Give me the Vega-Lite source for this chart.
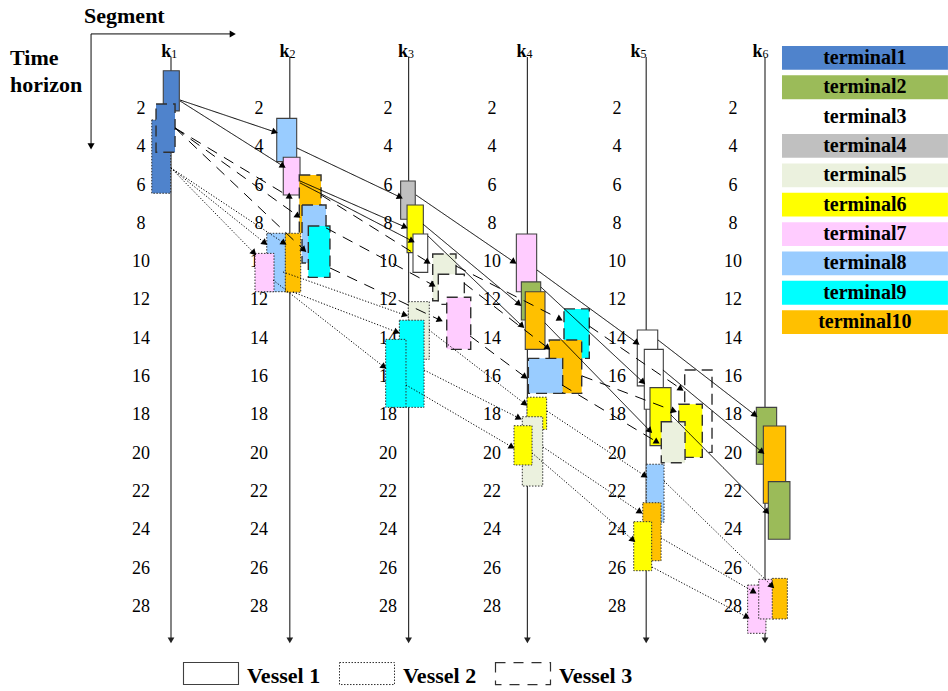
{
  "$schema": "https://vega.github.io/schema/vega-lite/v6.json",
  "width": 948,
  "height": 691,
  "autosize": {"type": "none"},
  "padding": 0,
  "background": "white",
  "config": {"view": {"stroke": null}},
  "datasets": {
    "cols": [
      {"sub": "1", "x": 1, "lx": 0.747, "kx": 0.960, "ticks": [2,4,6,8,10,12,14,16,18,20,22,24,26,28]},
      {"sub": "2", "x": 2, "lx": 1.741, "kx": 1.955, "ticks": [2,4,6,8,10,12,14,16,18,20,22,24,26,28]},
      {"sub": "3", "x": 3, "lx": 2.827, "kx": 2.953, "ticks": [2,4,6,8,10,12,14,16,18,20,22,24,26,28]},
      {"sub": "4", "x": 4, "lx": 3.702, "kx": 3.950, "ticks": [2,4,6,8,10,12,14,16,18,20,22,24,26,28]},
      {"sub": "5", "x": 5, "lx": 4.754, "kx": 4.910, "ticks": [2,4,6,8,10,12,14,16,18,20,22,24,26,28]},
      {"sub": "6", "x": 6, "lx": 5.731, "kx": 5.937, "ticks": [2,4,6,8,10,12,14,16,18,20,22,24,26,28]}
    ],
    "boxes": [
      {"terminal": "terminal1", "vessel": "Vessel 1", "x1": 0.935, "x2": 1.070, "t1": 0.00, "t2": 2.10},
      {"terminal": "terminal1", "vessel": "Vessel 2", "x1": 0.838, "x2": 0.997, "t1": 2.57, "t2": 6.40},
      {"terminal": "terminal1", "vessel": "Vessel 3", "x1": 0.874, "x2": 1.034, "t1": 1.74, "t2": 4.26},
      {"terminal": "terminal10", "vessel": "Vessel 3", "x1": 2.080, "x2": 2.263, "t1": 5.45, "t2": 8.48},
      {"terminal": "terminal8", "vessel": "Vessel 1", "x1": 1.890, "x2": 2.058, "t1": 2.49, "t2": 4.75},
      {"terminal": "terminal7", "vessel": "Vessel 1", "x1": 1.945, "x2": 2.086, "t1": 4.52, "t2": 6.49},
      {"terminal": "terminal8", "vessel": "Vessel 3", "x1": 2.103, "x2": 2.305, "t1": 7.01, "t2": 10.04},
      {"terminal": "terminal9", "vessel": "Vessel 3", "x1": 2.156, "x2": 2.338, "t1": 8.11, "t2": 10.79},
      {"terminal": "terminal8", "vessel": "Vessel 2", "x1": 1.806, "x2": 1.968, "t1": 8.49, "t2": 11.54},
      {"terminal": "terminal7", "vessel": "Vessel 2", "x1": 1.707, "x2": 1.867, "t1": 9.54, "t2": 11.54},
      {"terminal": "terminal10", "vessel": "Vessel 2", "x1": 1.962, "x2": 2.092, "t1": 8.49, "t2": 11.57},
      {"terminal": "terminal4", "vessel": "Vessel 1", "x1": 2.933, "x2": 3.056, "t1": 5.76, "t2": 7.76},
      {"terminal": "terminal6", "vessel": "Vessel 1", "x1": 2.987, "x2": 3.124, "t1": 7.01, "t2": 9.50},
      {"terminal": "terminal3", "vessel": "Vessel 1", "x1": 3.037, "x2": 3.161, "t1": 8.53, "t2": 10.53},
      {"terminal": "terminal5", "vessel": "Vessel 3", "x1": 3.203, "x2": 3.399, "t1": 9.57, "t2": 12.01},
      {"terminal": "terminal3", "vessel": "Vessel 3", "x1": 3.250, "x2": 3.469, "t1": 10.63, "t2": 12.20},
      {"terminal": "terminal7", "vessel": "Vessel 3", "x1": 3.321, "x2": 3.523, "t1": 11.83, "t2": 14.55},
      {"terminal": "terminal5", "vessel": "Vessel 2", "x1": 2.997, "x2": 3.174, "t1": 12.06, "t2": 15.07},
      {"terminal": "terminal9", "vessel": "Vessel 2", "x1": 2.922, "x2": 3.130, "t1": 13.03, "t2": 17.58},
      {"terminal": "terminal9", "vessel": "Vessel 2", "x1": 2.807, "x2": 2.978, "t1": 14.03, "t2": 17.58},
      {"terminal": "terminal7", "vessel": "Vessel 1", "x1": 3.907, "x2": 4.078, "t1": 8.53, "t2": 11.54},
      {"terminal": "terminal2", "vessel": "Vessel 1", "x1": 3.949, "x2": 4.112, "t1": 11.03, "t2": 13.02},
      {"terminal": "terminal10", "vessel": "Vessel 1", "x1": 3.982, "x2": 4.148, "t1": 11.54, "t2": 14.55},
      {"terminal": "terminal9", "vessel": "Vessel 3", "x1": 4.308, "x2": 4.521, "t1": 12.44, "t2": 15.02},
      {"terminal": "terminal10", "vessel": "Vessel 3", "x1": 4.184, "x2": 4.457, "t1": 14.06, "t2": 16.85},
      {"terminal": "terminal8", "vessel": "Vessel 3", "x1": 4.008, "x2": 4.297, "t1": 15.02, "t2": 16.85},
      {"terminal": "terminal6", "vessel": "Vessel 2", "x1": 3.997, "x2": 4.162, "t1": 17.05, "t2": 18.73},
      {"terminal": "terminal5", "vessel": "Vessel 2", "x1": 3.957, "x2": 4.129, "t1": 18.07, "t2": 21.69},
      {"terminal": "terminal6", "vessel": "Vessel 2", "x1": 3.887, "x2": 4.039, "t1": 18.54, "t2": 20.59},
      {"terminal": "terminal3", "vessel": "Vessel 1", "x1": 4.925, "x2": 5.097, "t1": 13.54, "t2": 16.46},
      {"terminal": "terminal3", "vessel": "Vessel 1", "x1": 4.984, "x2": 5.144, "t1": 14.55, "t2": 17.68},
      {"terminal": "terminal6", "vessel": "Vessel 1", "x1": 5.032, "x2": 5.209, "t1": 16.55, "t2": 19.58},
      {"terminal": "terminal3", "vessel": "Vessel 3", "x1": 5.324, "x2": 5.554, "t1": 15.63, "t2": 19.93},
      {"terminal": "terminal6", "vessel": "Vessel 3", "x1": 5.274, "x2": 5.472, "t1": 17.42, "t2": 20.19},
      {"terminal": "terminal5", "vessel": "Vessel 3", "x1": 5.127, "x2": 5.327, "t1": 18.33, "t2": 20.47},
      {"terminal": "terminal8", "vessel": "Vessel 2", "x1": 5.001, "x2": 5.150, "t1": 20.55, "t2": 23.58},
      {"terminal": "terminal10", "vessel": "Vessel 2", "x1": 4.971, "x2": 5.125, "t1": 22.56, "t2": 25.59},
      {"terminal": "terminal6", "vessel": "Vessel 2", "x1": 4.895, "x2": 5.046, "t1": 23.55, "t2": 26.11},
      {"terminal": "terminal2", "vessel": "Vessel 1", "x1": 5.927, "x2": 6.098, "t1": 17.58, "t2": 20.55},
      {"terminal": "terminal10", "vessel": "Vessel 1", "x1": 5.986, "x2": 6.174, "t1": 18.55, "t2": 22.59},
      {"terminal": "terminal2", "vessel": "Vessel 1", "x1": 6.028, "x2": 6.210, "t1": 21.46, "t2": 24.47},
      {"terminal": "terminal7", "vessel": "Vessel 2", "x1": 5.854, "x2": 6.008, "t1": 26.86, "t2": 29.38},
      {"terminal": "terminal7", "vessel": "Vessel 2", "x1": 5.947, "x2": 6.082, "t1": 26.56, "t2": 28.63},
      {"terminal": "terminal10", "vessel": "Vessel 2", "x1": 6.061, "x2": 6.188, "t1": 26.51, "t2": 28.63}
    ],
    "arrows": [
      {"vessel": "Vessel 1", "x1": 1.076, "t1": 1.53, "x2": 1.875, "t2": 3.20},
      {"vessel": "Vessel 1", "x1": 1.076, "t1": 1.58, "x2": 1.943, "t2": 4.98},
      {"vessel": "Vessel 1", "x1": 2.061, "t1": 4.04, "x2": 2.928, "t2": 6.60},
      {"vessel": "Vessel 1", "x1": 2.086, "t1": 5.76, "x2": 2.970, "t2": 8.16},
      {"vessel": "Vessel 1", "x1": 2.086, "t1": 5.86, "x2": 3.029, "t2": 8.89},
      {"vessel": "Vessel 1", "x1": 3.062, "t1": 6.49, "x2": 3.887, "t2": 9.99},
      {"vessel": "Vessel 1", "x1": 3.121, "t1": 8.01, "x2": 3.929, "t2": 12.18},
      {"vessel": "Vessel 1", "x1": 3.163, "t1": 8.63, "x2": 3.955, "t2": 13.33},
      {"vessel": "Vessel 1", "x1": 4.081, "t1": 10.41, "x2": 4.923, "t2": 14.22},
      {"vessel": "Vessel 1", "x1": 4.114, "t1": 11.30, "x2": 4.973, "t2": 16.26},
      {"vessel": "Vessel 1", "x1": 4.148, "t1": 13.17, "x2": 5.032, "t2": 18.81},
      {"vessel": "Vessel 1", "x1": 5.099, "t1": 14.06, "x2": 5.916, "t2": 17.98},
      {"vessel": "Vessel 1", "x1": 5.141, "t1": 15.63, "x2": 5.975, "t2": 19.91},
      {"vessel": "Vessel 1", "x1": 5.209, "t1": 17.98, "x2": 6.017, "t2": 23.04},
      {"vessel": "Vessel 2", "x1": 1.000, "t1": 5.08, "x2": 1.699, "t2": 9.52},
      {"vessel": "Vessel 2", "x1": 1.000, "t1": 5.08, "x2": 1.791, "t2": 9.00},
      {"vessel": "Vessel 2", "x1": 1.000, "t1": 5.08, "x2": 1.951, "t2": 9.00},
      {"vessel": "Vessel 2", "x1": 1.943, "t1": 10.51, "x2": 2.970, "t2": 12.76},
      {"vessel": "Vessel 2", "x1": 2.027, "t1": 11.56, "x2": 2.902, "t2": 13.65},
      {"vessel": "Vessel 2", "x1": 1.859, "t1": 10.93, "x2": 2.793, "t2": 15.47},
      {"vessel": "Vessel 2", "x1": 3.172, "t1": 13.54, "x2": 3.980, "t2": 17.40},
      {"vessel": "Vessel 2", "x1": 3.130, "t1": 15.63, "x2": 3.929, "t2": 18.14},
      {"vessel": "Vessel 2", "x1": 2.978, "t1": 16.41, "x2": 3.870, "t2": 19.65},
      {"vessel": "Vessel 2", "x1": 4.165, "t1": 17.77, "x2": 4.990, "t2": 21.16},
      {"vessel": "Vessel 2", "x1": 4.131, "t1": 19.65, "x2": 4.948, "t2": 23.04},
      {"vessel": "Vessel 2", "x1": 4.039, "t1": 19.96, "x2": 4.889, "t2": 24.51},
      {"vessel": "Vessel 2", "x1": 5.150, "t1": 21.43, "x2": 6.059, "t2": 26.91},
      {"vessel": "Vessel 2", "x1": 5.125, "t1": 24.40, "x2": 5.907, "t2": 27.22},
      {"vessel": "Vessel 2", "x1": 5.049, "t1": 25.92, "x2": 5.848, "t2": 28.53},
      {"vessel": "Vessel 3", "x1": 1.034, "t1": 2.99, "x2": 2.002, "t2": 6.60},
      {"vessel": "Vessel 3", "x1": 1.034, "t1": 2.99, "x2": 2.069, "t2": 7.59},
      {"vessel": "Vessel 3", "x1": 1.034, "t1": 2.99, "x2": 2.120, "t2": 9.36},
      {"vessel": "Vessel 3", "x1": 2.263, "t1": 6.49, "x2": 3.163, "t2": 9.99},
      {"vessel": "Vessel 3", "x1": 2.305, "t1": 8.21, "x2": 3.205, "t2": 11.19},
      {"vessel": "Vessel 3", "x1": 2.338, "t1": 10.30, "x2": 3.264, "t2": 13.02},
      {"vessel": "Vessel 3", "x1": 3.399, "t1": 10.20, "x2": 4.274, "t2": 12.97},
      {"vessel": "Vessel 3", "x1": 3.466, "t1": 11.09, "x2": 4.173, "t2": 14.48},
      {"vessel": "Vessel 3", "x1": 3.517, "t1": 13.85, "x2": 3.980, "t2": 15.99},
      {"vessel": "Vessel 3", "x1": 4.519, "t1": 13.33, "x2": 5.293, "t2": 16.62},
      {"vessel": "Vessel 3", "x1": 4.460, "t1": 15.94, "x2": 5.234, "t2": 17.77},
      {"vessel": "Vessel 3", "x1": 4.291, "t1": 16.41, "x2": 5.091, "t2": 19.39},
      {"vessel": "axis", "x1": 0.327, "t1": -1.92, "x2": 1.52, "t2": -1.92},
      {"vessel": "axis", "x1": 0.327, "t1": -1.92, "x2": 0.327, "t2": 3.95}
    ],
    "titles": [
      {"text": "Segment", "x": 0.268, "t": -2.49},
      {"text": "Time", "x": -0.355, "t": -0.30},
      {"text": "horizon", "x": -0.355, "t": 1.11}
    ],
    "terms": [
      {"terminal": "terminal1"}, {"terminal": "terminal2"}, {"terminal": "terminal3"},
      {"terminal": "terminal4"}, {"terminal": "terminal5"}, {"terminal": "terminal6"},
      {"terminal": "terminal7"}, {"terminal": "terminal8"}, {"terminal": "terminal9"},
      {"terminal": "terminal10"}
    ],
    "vessels": [
      {"vessel": "Vessel 1"}, {"vessel": "Vessel 2"}, {"vessel": "Vessel 3"}
    ]
  },
  "layer": [
    {
      "layer": [
        {
          "data": {"name": "cols"},
          "mark": {"type": "rule", "color": "#333333", "strokeWidth": 1.2},
          "encoding": {
            "x": {"field": "x", "type": "quantitative", "scale": {"domain": [-0.4394, 7.5404], "nice": false, "zero": false}, "axis": null},
            "y": {"datum": -0.72, "type": "quantitative", "scale": {"domain": [-3.692, 32.392], "reverse": true, "nice": false, "zero": false}, "axis": null},
            "y2": {"datum": 29.7}
          }
        },
        {
          "data": {"name": "cols"},
          "mark": {"type": "point", "shape": "triangle-down", "filled": true, "color": "#222222", "size": 45, "opacity": 1},
          "encoding": {
            "x": {"field": "x", "type": "quantitative"},
            "y": {"datum": 29.75, "type": "quantitative"}
          }
        },
        {
          "data": {"name": "cols"},
          "transform": [{"flatten": ["ticks"], "as": ["tk"]}],
          "mark": {"type": "text", "font": "Liberation Serif", "fontSize": 18, "align": "center", "baseline": "middle", "color": "black"},
          "encoding": {
            "x": {"field": "lx", "type": "quantitative"},
            "y": {"field": "tk", "type": "quantitative"},
            "text": {"field": "tk", "type": "quantitative"}
          }
        },
        {
          "data": {"name": "boxes"},
          "transform": [{"filter": "datum.vessel === 'Vessel 1'"}],
          "mark": {"type": "rect", "stroke": "#404040", "strokeWidth": 1.1},
          "encoding": {
            "x": {"field": "x1", "type": "quantitative"},
            "x2": {"field": "x2"},
            "y": {"field": "t1", "type": "quantitative"},
            "y2": {"field": "t2"},
            "fill": {
              "field": "terminal", "type": "nominal",
              "scale": {
                "domain": ["terminal1","terminal2","terminal3","terminal4","terminal5","terminal6","terminal7","terminal8","terminal9","terminal10"],
                "range": ["#4F83CC","#9BBB59","#FFFFFF","#C0C0C0","#EBF1DE","#FFFF00","#FFCCFF","#99CCFF","#00FFFF","#FFC000"]
              },
              "legend": null
            }
          }
        },
        {
          "data": {"name": "boxes"},
          "transform": [{"filter": "datum.vessel === 'Vessel 2'"}],
          "mark": {"type": "rect", "stroke": "#303030", "strokeWidth": 1, "strokeDash": [1.5, 1.5]},
          "encoding": {
            "x": {"field": "x1", "type": "quantitative"},
            "x2": {"field": "x2"},
            "y": {"field": "t1", "type": "quantitative"},
            "y2": {"field": "t2"},
            "fill": {"field": "terminal", "type": "nominal", "legend": null}
          }
        },
        {
          "data": {"name": "boxes"},
          "transform": [{"filter": "datum.vessel === 'Vessel 3'"}],
          "mark": {"type": "rect", "stroke": "#303030", "strokeWidth": 1.4, "strokeDash": [11, 6]},
          "encoding": {
            "x": {"field": "x1", "type": "quantitative"},
            "x2": {"field": "x2"},
            "y": {"field": "t1", "type": "quantitative"},
            "y2": {"field": "t2"},
            "fill": {"field": "terminal", "type": "nominal", "legend": null}
          }
        },
        {
          "data": {"name": "arrows"},
          "mark": {"type": "rule", "color": "black", "strokeWidth": 1},
          "encoding": {
            "x": {"field": "x1", "type": "quantitative"},
            "x2": {"field": "x2"},
            "y": {"field": "t1", "type": "quantitative"},
            "y2": {"field": "t2"},
            "strokeDash": {
              "field": "vessel", "type": "nominal",
              "scale": {"domain": ["Vessel 1", "Vessel 2", "Vessel 3", "axis"], "range": [[1, 0], [1.2, 1.8], [11, 8], [1, 0]]},
              "legend": null
            }
          }
        },
        {
          "data": {"name": "arrows"},
          "transform": [
            {"calculate": "atan2((datum.t2 - datum.t1) * 19.15, (datum.x2 - datum.x1) * 118.8) * 180 / PI + 90", "as": "ang"}
          ],
          "mark": {"type": "point", "shape": "triangle-up", "filled": true, "color": "black", "size": 50, "opacity": 1},
          "encoding": {
            "x": {"field": "x2", "type": "quantitative"},
            "y": {"field": "t2", "type": "quantitative"},
            "angle": {"field": "ang", "type": "quantitative", "scale": null}
          }
        },
        {
          "data": {"name": "cols"},
          "mark": {"type": "text", "font": "Liberation Serif", "fontWeight": "bold", "fontSize": 18, "align": "center", "baseline": "alphabetic", "color": "black"},
          "encoding": {
            "x": {"field": "kx", "type": "quantitative"},
            "y": {"datum": -0.73, "type": "quantitative"},
            "text": {"value": "k"}
          }
        },
        {
          "data": {"name": "cols"},
          "mark": {"type": "text", "font": "Liberation Serif", "fontSize": 12, "align": "left", "baseline": "alphabetic", "dx": 5, "color": "black"},
          "encoding": {
            "x": {"field": "kx", "type": "quantitative"},
            "y": {"datum": -0.66, "type": "quantitative"},
            "text": {"field": "sub"}
          }
        },
        {
          "data": {"name": "titles"},
          "mark": {"type": "text", "font": "Liberation Serif", "fontWeight": "bold", "fontSize": 22, "align": "left", "baseline": "alphabetic", "color": "black"},
          "encoding": {
            "x": {"field": "x", "type": "quantitative"},
            "y": {"field": "t", "type": "quantitative"},
            "text": {"field": "text"}
          }
        }
      ]
    },
    {
      "data": {"name": "terms"},
      "layer": [
        {
          "mark": {"type": "rect"},
          "encoding": {
            "y": {"field": "terminal", "type": "nominal", "sort": null,
                  "scale": {"type": "band", "domain": ["terminal1","terminal2","terminal3","terminal4","terminal5","terminal6","terminal7","terminal8","terminal9","terminal10"], "range": [46, 334], "paddingInner": 0.19, "paddingOuter": 0},
                  "axis": null},
            "x": {"datum": 6.143, "type": "quantitative", "scale": {"domain": [-0.4394, 7.5404], "nice": false, "zero": false}, "axis": null},
            "x2": {"datum": 7.54},
            "fill": {"field": "terminal", "type": "nominal", "legend": null}
          }
        },
        {
          "mark": {"type": "text", "font": "Liberation Serif", "fontWeight": "bold", "fontSize": 20, "align": "center", "baseline": "middle", "color": "black"},
          "encoding": {
            "y": {"field": "terminal", "type": "nominal"},
            "x": {"datum": 6.84, "type": "quantitative"},
            "text": {"field": "terminal"}
          }
        }
      ]
    },
    {
      "data": {"name": "vessels"},
      "layer": [
        {
          "transform": [{"filter": "datum.vessel === 'Vessel 1'"}],
          "mark": {"type": "rect", "fill": "white", "stroke": "#404040", "strokeWidth": 1.1, "width": 55, "height": 22},
          "encoding": {
            "x": {"field": "vessel", "type": "nominal", "scale": {"type": "point", "domain": ["Vessel 1", "Vessel 2", "Vessel 3"], "range": [211, 523], "padding": 0}, "axis": null},
            "y": {"datum": 31.48, "type": "quantitative", "scale": {"domain": [-3.692, 32.392], "reverse": true, "nice": false, "zero": false}, "axis": null}
          }
        },
        {
          "transform": [{"filter": "datum.vessel === 'Vessel 2'"}],
          "mark": {"type": "rect", "fill": "white", "stroke": "#303030", "strokeWidth": 1, "strokeDash": [1.5, 1.5], "width": 55, "height": 22},
          "encoding": {
            "x": {"field": "vessel", "type": "nominal"},
            "y": {"datum": 31.48, "type": "quantitative"}
          }
        },
        {
          "transform": [{"filter": "datum.vessel === 'Vessel 3'"}],
          "mark": {"type": "rect", "fill": "white", "stroke": "#303030", "strokeWidth": 1.2, "strokeDash": [10, 8], "width": 55, "height": 22},
          "encoding": {
            "x": {"field": "vessel", "type": "nominal"},
            "y": {"datum": 31.48, "type": "quantitative"}
          }
        },
        {
          "mark": {"type": "text", "font": "Liberation Serif", "fontWeight": "bold", "fontSize": 22, "align": "left", "baseline": "alphabetic", "dx": 36, "color": "black"},
          "encoding": {
            "x": {"field": "vessel", "type": "nominal"},
            "y": {"datum": 31.97, "type": "quantitative"},
            "text": {"field": "vessel"}
          }
        }
      ]
    }
  ],
  "resolve": {"scale": {"x": "independent", "y": "independent"}}
}
